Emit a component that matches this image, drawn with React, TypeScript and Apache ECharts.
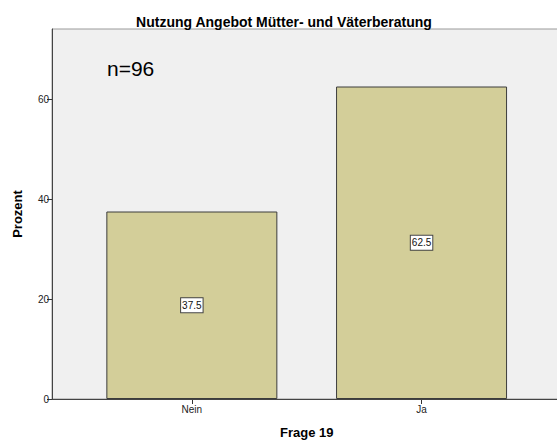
import React, { useEffect, useRef } from "react";
import * as echarts from "echarts";

const categories = ["Nein", "Ja"];
const percentValues = [37.5, 62.5];
const yTickValues = [0, 20, 40, 60];
const titleText = "Nutzung Angebot Mütter- und Väterberatung";
const noteText = "n=96";
const xName = "Frage 19";
const yName = "Prozent";

export default function App() {
  const ref = useRef<HTMLDivElement | null>(null);
  useEffect(() => {
    if (!ref.current) return;
    const chart = echarts.init(ref.current, null, { renderer: "svg" });
    const font = "Arial, 'Liberation Sans', sans-serif";
    chart.setOption({
      animation: false,
      backgroundColor: "#ffffff",
      textStyle: { fontFamily: font },
      title: {
        text: titleText,
        left: 279,
        top: 10,
        textAlign: "center",
        textStyle: { fontSize: 14, fontWeight: "bold", color: "#000", fontFamily: font },
      },
      graphic: [
        {
          type: "text",
          left: 107,
          top: 58,
          z: 10,
          style: { text: noteText, fontSize: 21, fill: "#000", fontFamily: font },
        },
      ],
      grid: [
        {
          left: 52,
          right: -10,
          top: 29,
          bottom: 42,
          show: true,
          backgroundColor: "#f0f0f0",
          borderColor: "#9a9a9a",
          borderWidth: 1,
          outerBoundsMode: "none",
          containLabel: false,
        },
        { left: 77, width: 459.4, top: 29, bottom: 42, outerBoundsMode: "none", containLabel: false },
      ],
      xAxis: [
        {
          gridIndex: 0,
          type: "category",
          data: [""],
          axisLine: { show: true, lineStyle: { color: "#444", width: 1 } },
          axisTick: { show: false },
          axisLabel: { show: false },
          z: 5,
        },
        {
          gridIndex: 1,
          type: "category",
          data: categories,
          axisLine: { show: false },
          axisTick: { show: true, alignWithLabel: true, length: 5, lineStyle: { color: "#333" } },
          axisLabel: { fontSize: 10, color: "#222", margin: 5, fontFamily: font },
          name: xName,
          nameLocation: "middle",
          nameGap: 27,
          nameTextStyle: { fontSize: 13, fontWeight: "bold", color: "#000", fontFamily: font },
        },
      ],
      yAxis: [
        {
          gridIndex: 0,
          type: "value",
          min: 0,
          max: 74,
          interval: 20,
          axisLine: { show: true, lineStyle: { color: "#444", width: 1 } },
          axisTick: { show: true, length: 5, customValues: yTickValues, lineStyle: { color: "#333" } },
          axisLabel: { fontSize: 10, color: "#222", margin: 3, customValues: yTickValues, fontFamily: font },
          splitLine: { show: false },
          name: yName,
          nameLocation: "middle",
          nameGap: 28,
          nameRotate: 90,
          nameTextStyle: { fontSize: 13, fontWeight: "bold", color: "#000", fontFamily: font },
          z: 5,
        },
        {
          gridIndex: 1,
          type: "value",
          min: 0,
          max: 74,
          show: false,
          splitLine: { show: false },
        },
      ],
      series: [
        {
          type: "bar",
          xAxisIndex: 1,
          yAxisIndex: 1,
          data: percentValues,
          barWidth: 171,
          itemStyle: { color: "#d3ce99", borderColor: "#3c3c3c", borderWidth: 1 },
          label: {
            show: true,
            position: "inside",
            formatter: (p: any) => String(p.value),
            fontSize: 10,
            lineHeight: 11,
            color: "#111",
            fontFamily: font,
            backgroundColor: "#ffffff",
            borderColor: "#444",
            borderWidth: 1,
            padding: [2, 1, 1, 1],
          },
        },
      ],
    });
    return () => chart.dispose();
  }, []);
  return (
    <div
      ref={ref}
      style={{ position: "fixed", left: 0, top: 0, width: 557, height: 441 }}
    />
  );
}
